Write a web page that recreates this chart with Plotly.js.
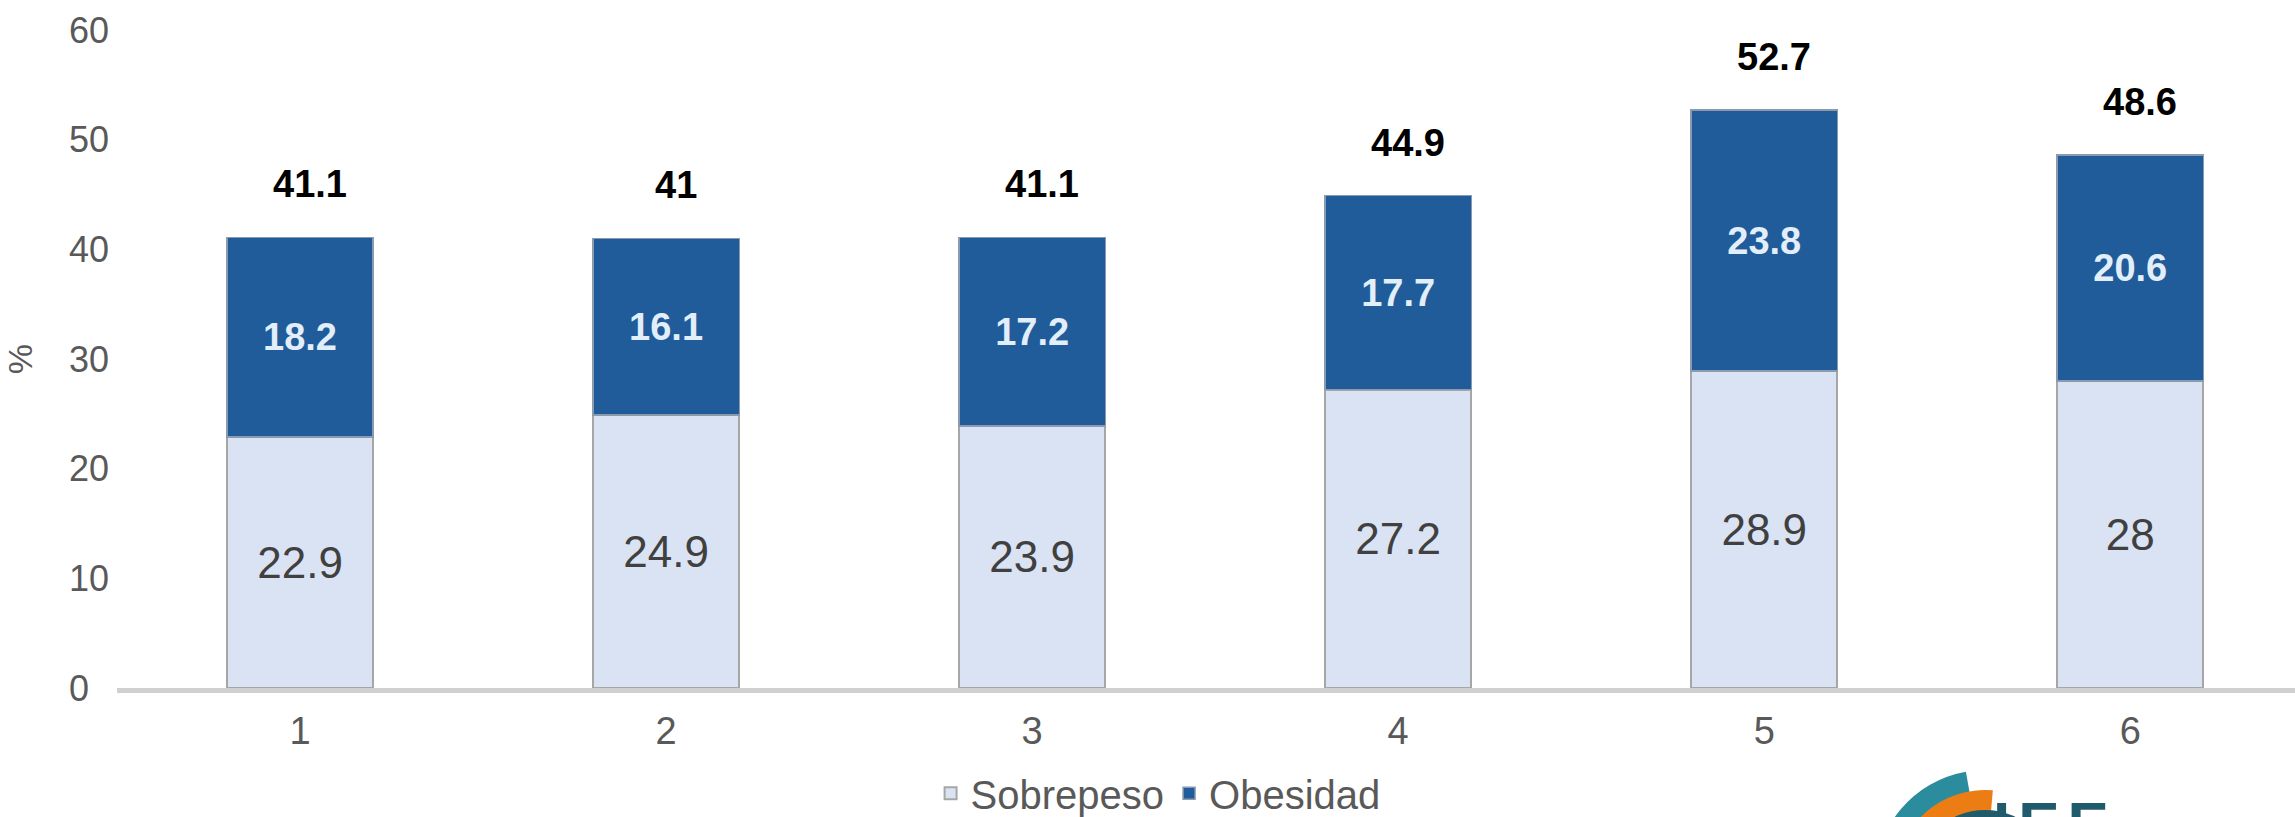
<!DOCTYPE html>
<html>
<head>
<meta charset="utf-8">
<script src="https://cdn.plot.ly/plotly-3.0.1.min.js"></script>
<style>
  html, body { margin: 0; padding: 0; background: #ffffff; overflow: hidden; }
  #wrap { position: relative; width: 2295px; height: 817px; overflow: hidden; }
  #chart { position: absolute; left: 0; top: 0; width: 2295px; height: 870px; }
  #logo { position: absolute; left: 1850px; top: 740px; width: 320px; height: 77px; overflow: hidden; }
</style>
</head>
<body>
<div id="wrap">
  <div id="chart"></div>
  <svg id="logo" width="320" height="77" viewBox="0 0 320 77">
    <path id="teal" fill="#2b8c9e" d=""></path>
    <path id="orange" fill="#ec7d14" d=""></path>
    <circle cx="135" cy="140" r="70" fill="#1f5b6b"></circle>
    <text x="143" y="105" font-family="Liberation Sans, Arial, sans-serif" font-weight="bold" font-size="62" letter-spacing="8" fill="#1f5b6b">IEE</text>
  </svg>
</div>
<script>
// ---- data ----
var categories = ['1', '2', '3', '4', '5', '6'];
var sobrepeso = [22.9, 24.9, 23.9, 27.2, 28.9, 28];
var obesidad  = [18.2, 16.1, 17.2, 17.7, 23.8, 20.6];
var totals    = [41.1, 41, 41.1, 44.9, 52.7, 48.6];
var yTickVals = [0, 10, 20, 30, 40, 50, 60];
var yTickText = ['0\u2007', '10', '20', '30', '40', '50', '60'];
var seriesNames = ['Sobrepeso', 'Obesidad'];

// ---- logo arcs (decorative) ----
function sector(cx, cy, r1, r2, a0, a1) {
  function pt(r, a) { var t = a * Math.PI / 180; return [cx + r * Math.cos(t), cy - r * Math.sin(t)]; }
  var p1 = pt(r2, a0), p2 = pt(r2, a1), p3 = pt(r1, a1), p4 = pt(r1, a0);
  return 'M' + p1[0] + ',' + p1[1] + ' A' + r2 + ',' + r2 + ' 0 0 1 ' + p2[0] + ',' + p2[1] +
         ' L' + p3[0] + ',' + p3[1] + ' A' + r1 + ',' + r1 + ' 0 0 0 ' + p4[0] + ',' + p4[1] + ' Z';
}
document.getElementById('teal').setAttribute('d', sector(135, 140, 88, 110, 180, 100));
document.getElementById('orange').setAttribute('d', sector(135, 140, 68, 90, 180, 85));

var FONT = 'Liberation Sans, Arial, sans-serif';

var traceS = {
  type: 'bar',
  name: seriesNames[0],
  x: categories,
  y: sobrepeso,
  text: sobrepeso.map(function (v) { return String(v); }),
  textposition: 'inside',
  insidetextanchor: 'middle',
  textangle: 0,
  constraintext: 'none',
  insidetextfont: { family: FONT, size: 44, color: '#404040' },
  marker: { color: '#dae3f3', line: { color: '#a6a6a6', width: 2 } },
  hoverinfo: 'skip'
};
var traceO = {
  type: 'bar',
  name: seriesNames[1],
  x: categories,
  y: obesidad,
  text: obesidad.map(function (v) { return '<b>' + v + '</b>'; }),
  textposition: 'inside',
  insidetextanchor: 'middle',
  textangle: 0,
  constraintext: 'none',
  insidetextfont: { family: FONT, size: 38, color: '#e2eefa' },
  marker: { color: '#1f5c99', line: { color: '#8a9bb0', width: 1.5 } },
  hoverinfo: 'skip'
};

var annotations = categories.map(function (c, i) {
  return {
    x: i, y: totals[i], xref: 'x', yref: 'y',
    text: '<b>' + totals[i] + '</b>',
    showarrow: false, yanchor: 'middle', xanchor: 'center',
    yshift: 53, xshift: 10,
    font: { family: FONT, size: 38, color: '#000000' }
  };
});

var layout = {
  width: 2295, height: 870,
  margin: { l: 117, r: 0, t: 30, b: 182, pad: 0 },
  paper_bgcolor: '#ffffff', plot_bgcolor: '#ffffff',
  barmode: 'stack',
  bargap: 0.6,
  showlegend: true,
  legend: {
    orientation: 'h', x: 0.478, xanchor: 'center', y: -0.16, yanchor: 'middle',
    font: { family: FONT, size: 40, color: '#595959' },
    itemwidth: 30, traceorder: 'normal', bgcolor: 'rgba(0,0,0,0)'
  },
  xaxis: {
    type: 'category',
    range: [-0.5, 5.45],
    showgrid: false, zeroline: false,
    showline: true, linecolor: '#d0d0d0', linewidth: 5,
    ticks: '',
    ticklabelstandoff: 5,
    tickfont: { family: FONT, size: 38, color: '#595959' },
    fixedrange: true
  },
  yaxis: {
    range: [0, 60],
    tickvals: yTickVals, ticktext: yTickText,
    showgrid: false, zeroline: false, showline: false,
    ticks: '',
    ticklabelstandoff: 7,
    tickfont: { family: FONT, size: 36, color: '#595959' },
    title: { text: '%', font: { family: FONT, size: 34, color: '#595959' }, standoff: 26 },
    fixedrange: true
  },
  annotations: annotations
};

Plotly.newPlot('chart', [traceS, traceO], layout, { displayModeBar: false, staticPlot: true });
</script>
</body>
</html>
